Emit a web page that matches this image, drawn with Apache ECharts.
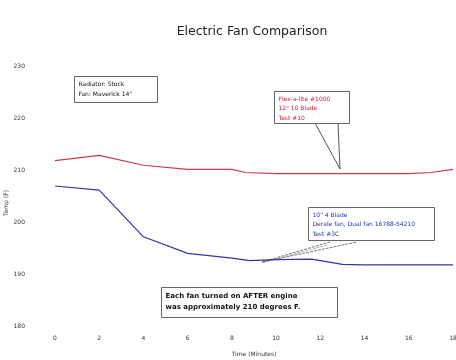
<!DOCTYPE html>
<html><head><meta charset="utf-8">
<script src="https://cdn.jsdelivr.net/npm/echarts@6/dist/echarts.min.js"></script>
<style>html,body{margin:0;padding:0;background:#fff}#c{width:456px;height:360px}</style>
</head><body><div id="c"></div>
<script>
var title = 'Electric Fan Comparison';
var xTitle = 'Time (Minutes)';
var yTitle = 'Temp (F)';
var xTicks = [0, 2, 4, 6, 8, 10, 12, 14, 16, 18];
var yTicks = [180, 190, 200, 210, 220, 230];
var redMinutes = [0, 2, 4, 6, 8, 8.6, 10, 12, 14, 16, 17, 18];
var redTemps   = [211.9, 212.9, 211.0, 210.2, 210.2, 209.6, 209.4, 209.4, 209.4, 209.4, 209.6, 210.2];
var blueMinutes = [0, 2, 4, 6, 8, 8.8, 10, 11.6, 13, 14, 16, 18];
var blueTemps   = [207.0, 206.2, 197.2, 194.0, 193.1, 192.6, 192.8, 192.9, 191.9, 191.8, 191.8, 191.8];
var noteStock = ['Radiator: Stock', 'Fan: Maverick 14"'];
var noteRed = ['Flex-a-lite #1000', '12" 10 Blade', 'Test #10'];
var noteBlue = ['10" 4 Blade', 'Derale fan, Dual fan 16788-54210', 'Test #3C'];
var noteBottom = ['Each fan turned on AFTER engine', 'was approximately 210 degrees F.'];

function pairs(xs, ys) { return xs.map(function (x, i) { return [x, ys[i]]; }); }

var chart = echarts.init(document.getElementById('c'));
var F = 'DejaVu Sans';
function box(x, y, w, h, lines, color, bold, fs, lh) {
  return {
    type: 'group', left: x, top: y,
    children: [
      { type: 'rect', shape: { x: 0, y: 0, width: w, height: h }, style: { fill: '#fff', stroke: '#666', lineWidth: 1 } },
      { type: 'text', x: 4, y: 3, style: { text: lines.join('\n'), fill: color, font: (bold ? 'bold ' : '') + fs + 'px ' + F, lineHeight: lh } }
    ]
  };
}
chart.setOption({
  animation: false,
  backgroundColor: '#fff',
  title: { text: title, left: 247, top: 20, textAlign: 'center', textStyle: { fontFamily: F, fontSize: 12.5, fontWeight: 'normal', color: '#222' } },
  grid: { left: 55, right: 3, top: 66.7, bottom: 34, containLabel: false, outerBoundsMode: 'none' },
  xAxis: {
    type: 'value', min: 0, max: 18, interval: 2,
    name: xTitle, nameLocation: 'middle', nameGap: 25,
    nameTextStyle: { fontFamily: F, fontSize: 6, color: '#333' },
    axisLine: { show: false }, axisTick: { show: false }, splitLine: { show: false },
    axisLabel: { fontFamily: F, fontSize: 6, color: '#333', margin: 9, hideOverlap: false }
  },
  yAxis: {
    type: 'value', min: 180, max: 230, interval: 10,
    axisLine: { show: false }, axisTick: { show: false }, splitLine: { show: false },
    axisLabel: { fontFamily: F, fontSize: 6, color: '#333', margin: 30 }
  },
  series: [
    { type: 'line', data: pairs(redMinutes, redTemps), symbol: 'none', lineStyle: { color: '#d03848', width: 1.2 } },
    { type: 'line', data: pairs(blueMinutes, blueTemps), symbol: 'none', lineStyle: { color: '#3333aa', width: 1.2 } }
  ],
  graphic: [
    { type: 'text', x: 6, y: 203, rotation: Math.PI / 2, style: { text: yTitle, font: '6px ' + F, fill: '#333', textAlign: 'center', textVerticalAlign: 'middle' } },
    { type: 'polyline', shape: { points: [[315, 123], [340, 169], [338, 123]] }, style: { stroke: '#555', fill: '#fff', lineWidth: 1 } },
    box(74, 76, 83, 26, noteStock, '#111', false, 6, 10),
    box(274, 91, 75, 32, noteRed, '#dd1133', false, 6, 9.5),
    { type: 'polyline', shape: { points: [[330, 242], [262, 262], [357, 242]] }, style: { stroke: '#555', fill: 'none', lineWidth: 0.8, lineDash: [3, 1] } },
    { type: 'polyline', shape: { points: [[327, 245], [262, 263]] }, style: { stroke: '#777', fill: 'none', lineWidth: 0.6, lineDash: [3, 1] } },
    box(308, 207, 126, 33, noteBlue, '#2233bb', false, 6, 9.5),
    box(161, 287, 176, 30, noteBottom, '#111', true, 7, 11)
  ]
});
</script></body></html>
